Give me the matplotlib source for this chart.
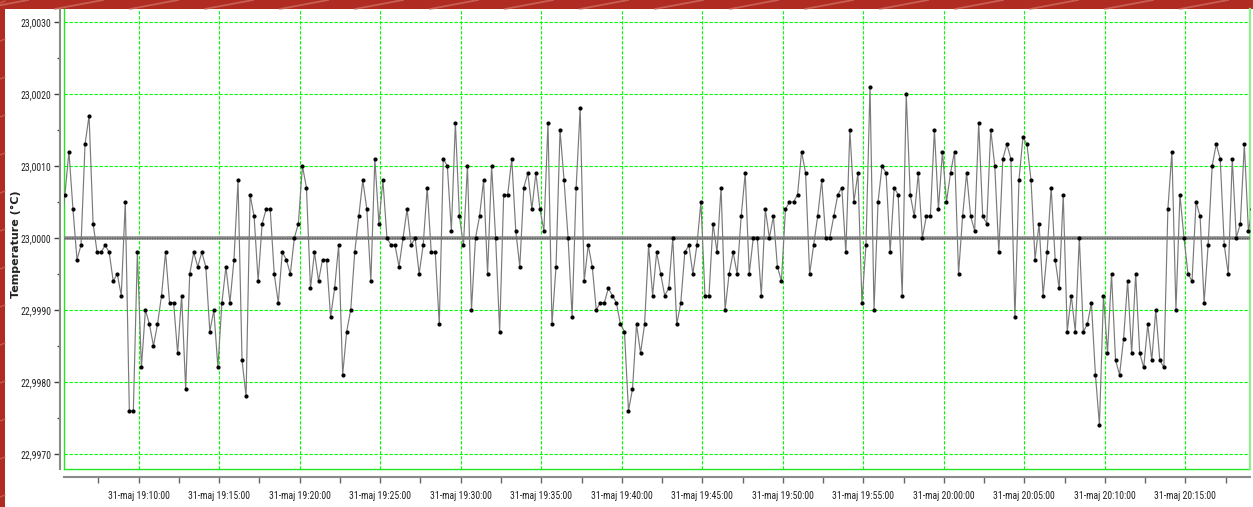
import matplotlib
matplotlib.use("Agg")
import matplotlib.pyplot as plt
import matplotlib.dates as mdates
from matplotlib import font_manager
from matplotlib.lines import Line2D
from matplotlib.patches import Rectangle
from matplotlib.ticker import FixedLocator, MultipleLocator, FuncFormatter
import numpy as np
import pandas as pd

# one sample every 15 s
START = "2016-05-31 19:05:10"
STEP = "15s"
BASE_TEMP = 23.0
REF_TEMP = 23.0
# deviation from 23,0000 degC, in units of 0.0001 degC
dev = [
    1, 6, 12, 4, -3, -1, 13, 17, 2, -2,
    -2, -1, -2, -6, -5, -8, 5, -24, -24, -2,
    -18, -10, -12, -15, -12, -8, -2, -9, -9, -16,
    -8, -21, -5, -2, -4, -2, -4, -13, -10, -18,
    -9, -4, -9, -3, 8, -17, -22, 6, 3, -6,
    2, 4, 4, -5, -9, -2, -3, -5, 0, 2,
    10, 7, -7, -2, -6, -3, -3, -11, -7, -1,
    -19, -13, -10, -2, 3, 8, 4, -6, 11, 2,
    8, 0, -1, -1, -4, 0, 4, -1, 0, -5,
    -1, 7, -2, -2, -12, 11, 10, 1, 16, 3,
    -1, 10, -10, 0, 3, 8, -5, 10, 0, -13,
    6, 6, 11, 1, -4, 7, 9, 4, 9, 4,
    1, 16, -12, -4, 15, 8, 0, -11, 7, 18,
    -6, -1, -4, -10, -9, -9, -7, -8, -9, -12,
    -13, -24, -21, -12, -16, -12, -1, -8, -2, -5,
    -8, -7, 0, -12, -9, -2, -1, -5, -1, 5,
    -8, -8, 2, -2, 7, -10, -5, -2, -5, 3,
    9, -5, 0, 0, -8, 4, 0, 3, -4, -6,
    4, 5, 5, 6, 12, 9, -5, -1, 3, 8,
    0, 0, 3, 6, 7, -2, 15, 5, 9, -9,
    -1, 21, -10, 5, 10, 9, -2, 7, 6, -8,
    20, 6, 3, 9, 0, 3, 3, 15, 4, 12,
    5, 9, 12, -5, 3, 9, 3, 1, 16, 3,
    2, 15, 10, -2, 11, 13, 11, -11, 8, 14,
    13, 8, -3, 2, -8, -2, 7, -3, -7, 6,
    -13, -8, -13, 0, -13, -12, -9, -19, -26, -8,
    -16, -5, -17, -19, -14, -6, -16, -5, -16, -18,
    -12, -17, -10, -17, -18, 4, 12, -10, 6, 0,
    -5, -6, 5, 3, -9, -1, 10, 13, 11, -1,
    -5, 11, 0, 2, 13, 1, 4,
]

y_ticks_major = 0.001
y_ticks_minor = 0.0005
y_min, y_max = 22.99679, 23.00318
x_left, x_right = "2016-05-31 19:05:21.6", "2016-05-31 20:19:01"
major_times = pd.date_range("2016-05-31 19:10:00", "2016-05-31 20:15:00", freq="5min")
minor_times = pd.date_range("2016-05-31 19:07:30", "2016-05-31 20:17:30", freq="5min")

times = pd.date_range(START, periods=len(dev), freq=STEP)
temps = BASE_TEMP + np.asarray(dev, dtype=float) * 1e-4

# the original uses a narrow UI font; take a condensed face if one is installed
fonts = font_manager.fontManager.ttflist
tick_props = None
for want in ("Liberation Sans Narrow", "Roboto Condensed", "Open Sans Condensed"):
    if any(f.name == want for f in fonts):
        tick_props = dict(family=[want, "DejaVu Sans"], size=7)
        break
if tick_props is None:
    if any(f.name == "DejaVu Sans" and f.stretch == "condensed" for f in fonts):
        tick_props = dict(family=["DejaVu Sans"], stretch="condensed", size=6.3)
    else:
        tick_props = dict(family=["Liberation Sans", "DejaVu Sans"], size=6.3)

W, H = 1253, 507
fig = plt.figure(figsize=(W / 100, H / 100), dpi=100)
fig.patch.set_facecolor("#b02c22")

# white window panel on the red background
fig.add_artist(Rectangle((5 / W, 0), 1 - 5 / W, (H - 9) / H, transform=fig.transFigure,
                         facecolor="white", edgecolor="none", zorder=0))
for x0 in range(-20, W, 75):
    fig.add_artist(Line2D([x0 / W, (x0 + 48) / W], [(H - 9) / H, 1.0], transform=fig.transFigure,
                          color="#d27468", lw=1.3, alpha=0.7, zorder=0.5))
for y0 in range(10, H, 38):
    fig.add_artist(Line2D([0, 5 / W], [y0 / H, (y0 + 2) / H], transform=fig.transFigure,
                          color="#d27468", lw=1.0, alpha=0.6, zorder=0.5))

ax = fig.add_axes([64 / W, 38 / H, (1250 - 64) / W, (469 - 9) / H])
ax.set_facecolor("white")

x_num = mdates.date2num(times.to_pydatetime())
ax.plot(x_num, temps, color="#7a7a7a", lw=0.85, marker="o", markersize=2.0,
        markerfacecolor="black", markeredgecolor="black", zorder=3)

ax.axhline(REF_TEMP, color="#8e8e8e", lw=2.6, zorder=2.5)
ax.axhline(REF_TEMP, color="#555555", lw=0.9, linestyle=(0, (1, 1)), zorder=2.6)

ax.set_xlim(mdates.date2num(pd.Timestamp(x_left).to_pydatetime()),
            mdates.date2num(pd.Timestamp(x_right).to_pydatetime()))
ax.set_ylim(y_min, y_max)

ax.xaxis.set_major_locator(FixedLocator(mdates.date2num(major_times.to_pydatetime())))
ax.xaxis.set_minor_locator(FixedLocator(mdates.date2num(minor_times.to_pydatetime())))
ax.xaxis.set_major_formatter(mdates.DateFormatter("%d-maj %H:%M:%S"))
ax.yaxis.set_major_locator(MultipleLocator(y_ticks_major))
ax.yaxis.set_minor_locator(MultipleLocator(y_ticks_minor))
ax.yaxis.set_major_formatter(FuncFormatter(lambda v, _: f"{v:.4f}".replace(".", ",")))

ax.grid(True, which="major", color="#00ff00", lw=0.8, linestyle=(0, (3, 1.5)))
ax.set_axisbelow(True)

for side in ("top", "right"):
    ax.spines[side].set_visible(False)
ax.spines["left"].set_position(("outward", 3))
ax.spines["bottom"].set_position(("outward", 6))
for side in ("left", "bottom"):
    ax.spines[side].set_color("#8a8a8a")
    ax.spines[side].set_linewidth(1.5)

# green plot-area frame
ax.add_line(Line2D([0, 0], [0, 1], transform=ax.transAxes, color="#22e622", lw=1.0, clip_on=False))
ax.add_line(Line2D([0, 1], [0, 0], transform=ax.transAxes, color="#22e622", lw=1.0, clip_on=False))
ax.add_line(Line2D([1, 1], [0, 1], transform=ax.transAxes, color="#8cf08c", lw=1.6, clip_on=False))

ax.tick_params(axis="y", which="major", length=4, width=1, color="#444444", pad=2,
               labelcolor="#222222")
ax.tick_params(axis="y", which="minor", length=2, width=1, color="#444444")
ax.tick_params(axis="x", which="major", length=4, width=1, color="#666666", pad=6,
               labelcolor="#222222")
ax.tick_params(axis="x", which="minor", length=4, width=1, color="#666666")
for lab in ax.get_xticklabels() + ax.get_yticklabels():
    lab.set_fontproperties(font_manager.FontProperties(**tick_props))

fig.text(15.5 / W, 1 - 244 / H, "Temperature (\u00b0C)", rotation=90, ha="center", va="center",
         fontsize=8, fontweight="bold", color="#222222", family=["DejaVu Sans"])

fig.savefig("out.png", dpi=100, facecolor=fig.get_facecolor())
